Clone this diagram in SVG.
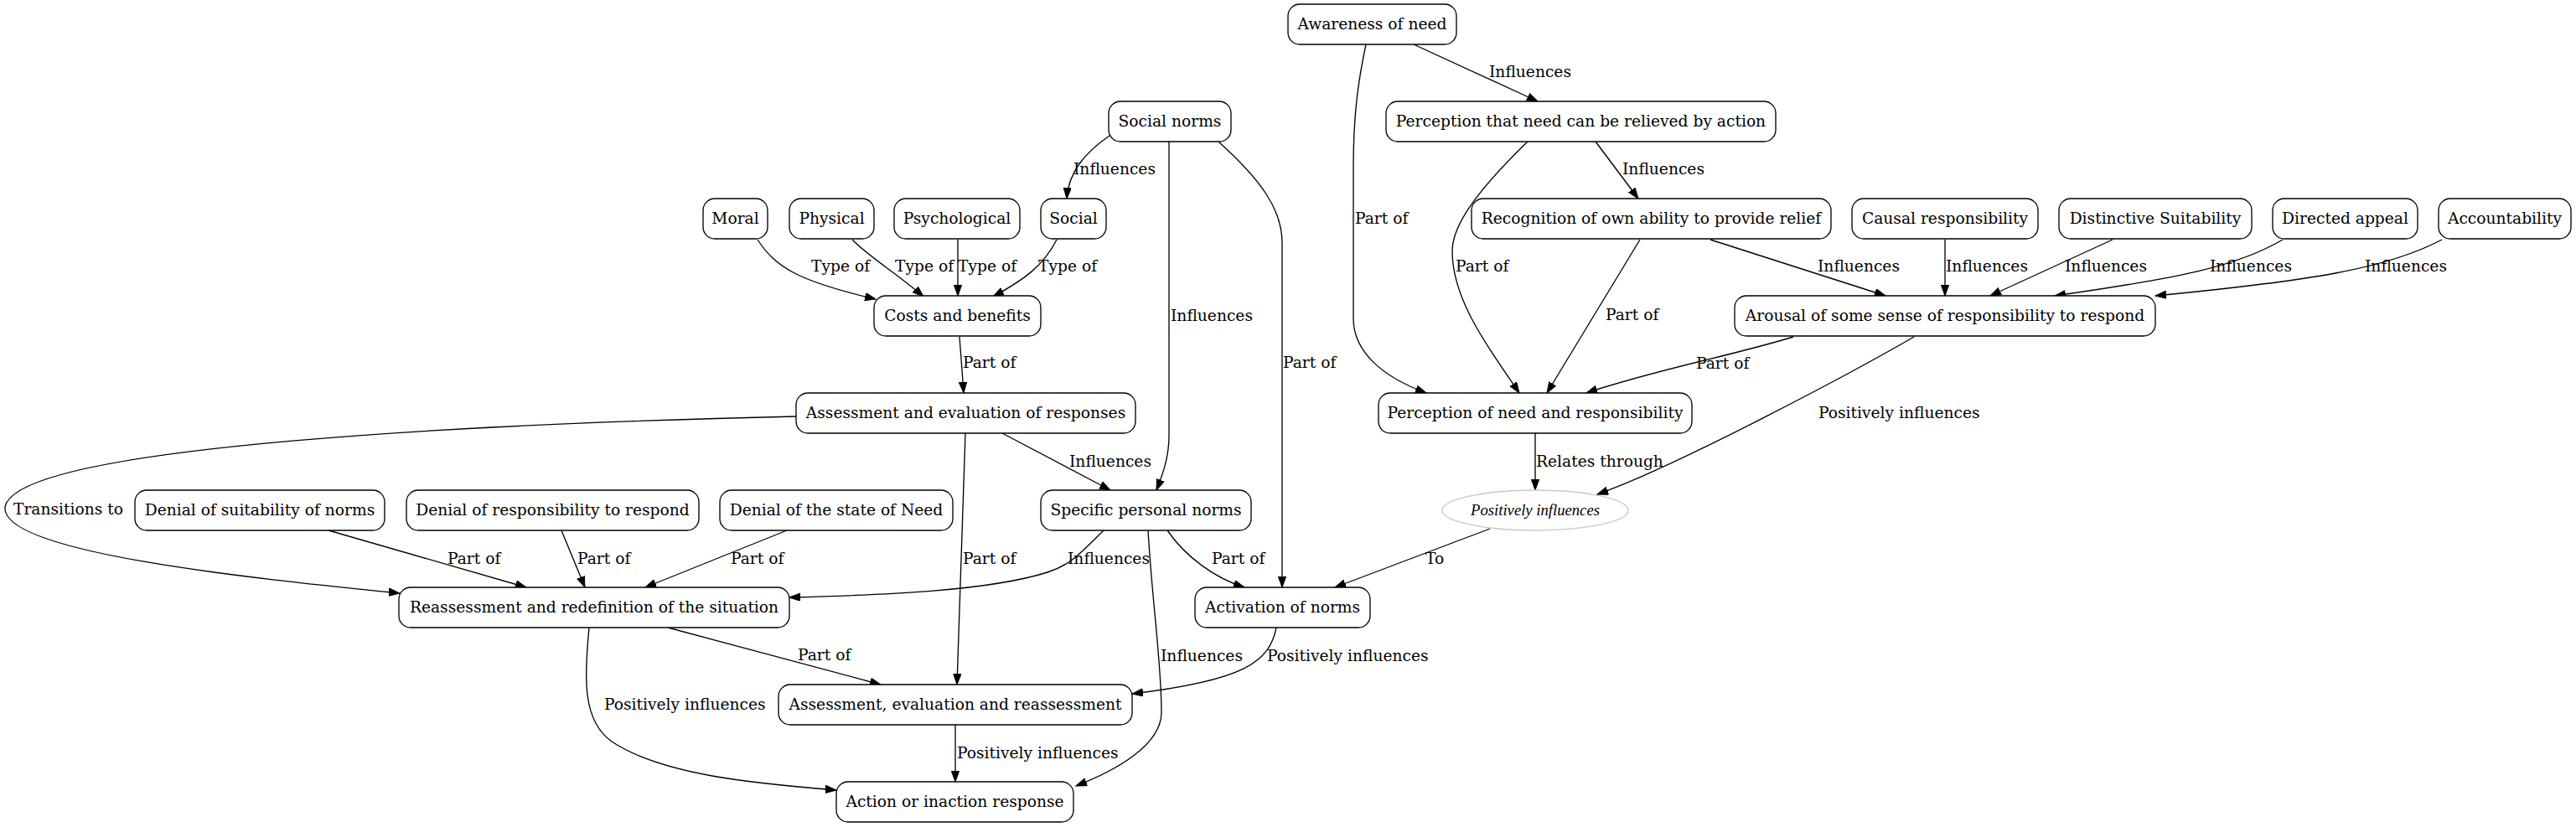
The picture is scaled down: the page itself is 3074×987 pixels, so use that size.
<svg xmlns="http://www.w3.org/2000/svg" width="3074" height="987" viewBox="0 0 3074 987">
<style>
.n rect{fill:#fff;stroke:#000;stroke-width:1.33}
.n text,.l{font-family:"DejaVu Serif",serif;font-size:18.67px;fill:#000}
.n text{text-anchor:middle}
.e path{fill:none;stroke:#000;stroke-width:1.33;marker-end:url(#ah)}
.it{font-family:"Liberation Serif",serif;font-style:italic;font-size:18.67px;text-anchor:middle}
</style>
<defs>
<marker id="ah" markerUnits="userSpaceOnUse" markerWidth="14" markerHeight="10" refX="13" refY="4.7" orient="auto" viewBox="0 0 14 10">
<path d="M0,0 L13,4.7 L0,9.4 z" fill="#000" stroke="#000" stroke-width="1"/>
</marker>
</defs>
<rect width="3074" height="987" fill="#fff"/>
<g id="edges" class="e">
<path d="M1324,162 C1295,182 1275,205 1273,237"/>
<path d="M1395,169 L1395,520 C1395,545 1388,565 1380,585"/>
<path d="M1454,169 C1505,215 1530,250 1530,290 L1530,701"/>
<path d="M904,286 C925,318 950,335 1045,357"/>
<path d="M1017,286 C1035,305 1075,330 1102,354"/>
<path d="M1143,286 L1143,353"/>
<path d="M1261,286 C1245,318 1220,335 1185,354"/>
<path d="M1145,402 L1150,469"/>
<path d="M1687,53 L1835,121"/>
<path d="M1630,53 C1620,100 1615,140 1615,200 L1615,380 C1615,420 1650,450 1702,469"/>
<path d="M1904,169 L1955,237"/>
<path d="M1823,169 C1760,230 1733,270 1733,300 C1733,360 1780,420 1813,469"/>
<path d="M1957,286 L1846,469"/>
<path d="M2041,286 L2250,353"/>
<path d="M2321,286 L2321,353"/>
<path d="M2521,286 L2375,353"/>
<path d="M2724,286 C2670,318 2600,332 2452,353"/>
<path d="M2914,286 C2850,320 2760,335 2572,353"/>
<path d="M2140,402 C2065,425 1980,440 1893,469"/>
<path d="M2284,402 C2215,442 2000,557 1906,590"/>
<path d="M1832,517 L1832,585"/>
<path d="M1778,631 L1593,701"/>
<path d="M950,497 C600,505 20,530 6,605 C0,660 300,690 477,708"/>
<path d="M1196,517 L1325,585"/>
<path d="M1152,517 L1142,817"/>
<path d="M392,633 L628,701"/>
<path d="M670,633 L698,701"/>
<path d="M939,633 L770,701"/>
<path d="M1317,633 C1285,665 1275,675 1250,683 C1180,705 1060,710 942,713"/>
<path d="M1393,633 C1415,665 1450,690 1485,701"/>
<path d="M1370,633 C1375,720 1386,790 1386,850 C1386,890 1330,920 1284,938"/>
<path d="M797,749 L1051,817"/>
<path d="M703,749 C697,810 695,860 730,885 C790,925 900,935 998,943"/>
<path d="M1523,749 C1515,790 1485,812 1351,828"/>
<path d="M1140,865 L1140,933"/>
</g>
<g id="edge-labels">
<text class="l" x="1281" y="208">Influences</text>
<text class="l" x="1397" y="383">Influences</text>
<text class="l" x="1531" y="439">Part of</text>
<text class="l" x="968" y="324">Type of</text>
<text class="l" x="1068" y="324">Type of</text>
<text class="l" x="1143" y="324">Type of</text>
<text class="l" x="1239" y="324">Type of</text>
<text class="l" x="1149" y="439">Part of</text>
<text class="l" x="1777" y="92">Influences</text>
<text class="l" x="1617" y="267">Part of</text>
<text class="l" x="1936" y="208">Influences</text>
<text class="l" x="1737" y="324">Part of</text>
<text class="l" x="1916" y="382">Part of</text>
<text class="l" x="2169" y="324">Influences</text>
<text class="l" x="2322" y="324">Influences</text>
<text class="l" x="2464" y="324">Influences</text>
<text class="l" x="2637" y="324">Influences</text>
<text class="l" x="2822" y="324">Influences</text>
<text class="l" x="2024" y="440">Part of</text>
<text class="l" x="2170" y="499">Positively influences</text>
<text class="l" x="1833" y="557">Relates through</text>
<text class="l" x="1701" y="673">To</text>
<text class="l" x="16" y="614">Transitions to</text>
<text class="l" x="534" y="673">Part of</text>
<text class="l" x="689" y="673">Part of</text>
<text class="l" x="872" y="673">Part of</text>
<text class="l" x="1274" y="673">Influences</text>
<text class="l" x="1446" y="673">Part of</text>
<text class="l" x="1149" y="673">Part of</text>
<text class="l" x="1276" y="557">Influences</text>
<text class="l" x="1385" y="789">Influences</text>
<text class="l" x="952" y="788">Part of</text>
<text class="l" x="721" y="847">Positively influences</text>
<text class="l" x="1512" y="789">Positively influences</text>
<text class="l" x="1142" y="905">Positively influences</text>
</g>
<g id="n-awareness" class="n"><rect x="1537" y="5" width="201" height="48" rx="14"/><text x="1637.5" y="35">Awareness of need</text></g>
<g id="n-socialnorms" class="n"><rect x="1323" y="121" width="146" height="48" rx="14"/><text x="1396" y="151">Social norms</text></g>
<g id="n-percrelieved" class="n"><rect x="1654" y="121" width="465" height="48" rx="14"/><text x="1886.5" y="151">Perception that need can be relieved by action</text></g>
<g id="n-moral" class="n"><rect x="839" y="237" width="77" height="48" rx="14"/><text x="877.5" y="267">Moral</text></g>
<g id="n-physical" class="n"><rect x="942" y="237" width="101" height="48" rx="14"/><text x="992.5" y="267">Physical</text></g>
<g id="n-psych" class="n"><rect x="1067" y="237" width="150" height="48" rx="14"/><text x="1142" y="267">Psychological</text></g>
<g id="n-social" class="n"><rect x="1242" y="237" width="78" height="48" rx="14"/><text x="1281" y="267">Social</text></g>
<g id="n-recog" class="n"><rect x="1756" y="237" width="429" height="48" rx="14"/><text x="1970.5" y="267">Recognition of own ability to provide relief</text></g>
<g id="n-causal" class="n"><rect x="2210" y="237" width="222" height="48" rx="14"/><text x="2321" y="267">Causal responsibility</text></g>
<g id="n-distinct" class="n"><rect x="2457" y="237" width="230" height="48" rx="14"/><text x="2572" y="267">Distinctive Suitability</text></g>
<g id="n-directed" class="n"><rect x="2712" y="237" width="173" height="48" rx="14"/><text x="2798.5" y="267">Directed appeal</text></g>
<g id="n-account" class="n"><rect x="2910" y="237" width="158" height="48" rx="14"/><text x="2989" y="267">Accountability</text></g>
<g id="n-costs" class="n"><rect x="1043" y="353" width="199" height="48" rx="14"/><text x="1142.5" y="383">Costs and benefits</text></g>
<g id="n-arousal" class="n"><rect x="2070" y="353" width="502" height="48" rx="14"/><text x="2321" y="383">Arousal of some sense of responsibility to respond</text></g>
<g id="n-assesseval" class="n"><rect x="950" y="469" width="405" height="48" rx="14"/><text x="1152.5" y="499">Assessment and evaluation of responses</text></g>
<g id="n-percneed" class="n"><rect x="1645" y="469" width="374" height="48" rx="14"/><text x="1832" y="499">Perception of need and responsibility</text></g>
<g id="n-denialsuit" class="n"><rect x="161" y="585" width="298" height="48" rx="14"/><text x="310" y="615">Denial of suitability of norms</text></g>
<g id="n-denialresp" class="n"><rect x="485" y="585" width="349" height="48" rx="14"/><text x="659.5" y="615">Denial of responsibility to respond</text></g>
<g id="n-denialneed" class="n"><rect x="859" y="585" width="278" height="48" rx="14"/><text x="998" y="615">Denial of the state of Need</text></g>
<g id="n-specific" class="n"><rect x="1242" y="585" width="251" height="48" rx="14"/><text x="1367.5" y="615">Specific personal norms</text></g>
<g id="n-posinf"><ellipse cx="1832" cy="609" rx="111" ry="24" fill="#fff" stroke="#c8c8c8" stroke-width="1.33"/><text class="it" x="1832" y="615">Positively influences</text></g>
<g id="n-reassess" class="n"><rect x="476" y="701" width="466" height="48" rx="14"/><text x="709" y="731">Reassessment and redefinition of the situation</text></g>
<g id="n-activation" class="n"><rect x="1426" y="701" width="209" height="48" rx="14"/><text x="1530.5" y="731">Activation of norms</text></g>
<g id="n-aer" class="n"><rect x="929" y="817" width="422" height="48" rx="14"/><text x="1140" y="847">Assessment, evaluation and reassessment</text></g>
<g id="n-action" class="n"><rect x="998" y="933" width="283" height="48" rx="14"/><text x="1139.5" y="963">Action or inaction response</text></g>
</svg>
